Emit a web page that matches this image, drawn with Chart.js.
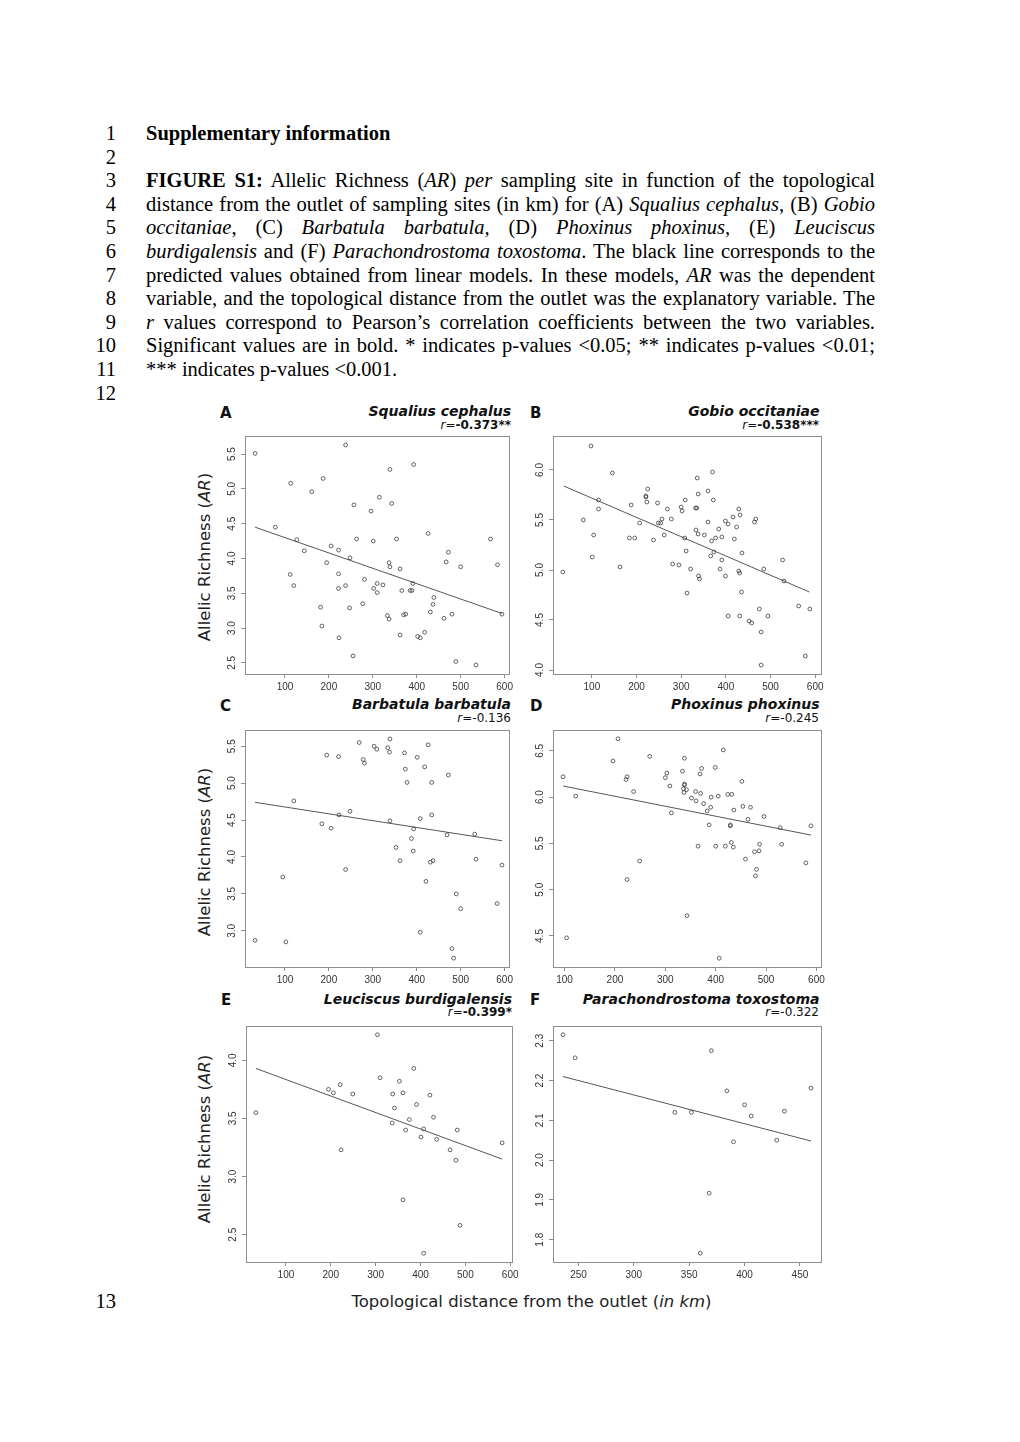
<!DOCTYPE html>
<html>
<head>
<meta charset="utf-8">
<script src="https://cdn.jsdelivr.net/npm/chart.js@4.4.1/dist/chart.umd.min.js"></script>
<style>
body { margin:0; background:#fff; width:1020px; height:1442px; position:relative; overflow:hidden; }
.doc { position:absolute; left:146px; top:122px; width:729px; font-family:"Liberation Serif", serif; font-size:20.5px; line-height:23.6px; color:#000; }
.doc div { height:23.6px; }
.doc .j { text-align:justify; text-align-last:justify; }
.nums { position:absolute; left:0; top:122px; width:116px; text-align:right; font-family:"Liberation Serif", serif; font-size:20.5px; line-height:23.6px; }
.nums div { height:23.6px; }
canvas { position:absolute; }
svg { position:absolute; left:0; top:0; }
</style>
</head>
<body>

<div class="nums">
  <div>1</div><div>2</div><div>3</div><div>4</div><div>5</div><div>6</div>
  <div>7</div><div>8</div><div>9</div><div>10</div><div>11</div><div>12</div>
</div>
<div class="nums" style="top:1290px"><div>13</div></div>

<div class="doc">
  <div><b>Supplementary information</b></div>
  <div></div>
  <div class="j"><b>FIGURE S1:</b> Allelic Richness (<i>AR</i>) <i>per</i> sampling site in function of the topological</div>
  <div class="j">distance from the outlet of sampling sites (in km) for (A) <i>Squalius cephalus</i>, (B) <i>Gobio</i></div>
  <div class="j"><i>occitaniae</i>, (C) <i>Barbatula barbatula,</i> (D) <i>Phoxinus phoxinus,</i> (E) <i>Leuciscus</i></div>
  <div class="j"><i>burdigalensis</i> and (F) <i>Parachondrostoma toxostoma</i>. The black line corresponds to the</div>
  <div class="j">predicted values obtained from linear models. In these models, <i>AR</i> was the dependent</div>
  <div class="j">variable, and the topological distance from the outlet was the explanatory variable. The</div>
  <div class="j"><i>r</i> values correspond to Pearson’s correlation coefficients between the two variables.</div>
  <div class="j">Significant values are in bold. * indicates p-values &lt;0.05; ** indicates p-values &lt;0.01;</div>
  <div>*** indicates p-values &lt;0.001.</div>
</div>

<svg width="1020" height="1442" font-family="DejaVu Sans" fill="#111">
  <g font-weight="bold" font-size="15">
    <text x="220" y="418">A</text>
    <text x="530" y="418">B</text>
    <text x="220" y="711">C</text>
    <text x="530" y="711">D</text>
    <text x="221" y="1005">E</text>
    <text x="530" y="1005">F</text>
  </g>
  <g font-weight="bold" font-style="italic" font-size="14" text-anchor="end">
    <text x="511" y="416">Squalius cephalus</text>
    <text x="819.5" y="416">Gobio occitaniae</text>
    <text x="511" y="709">Barbatula barbatula</text>
    <text x="819.5" y="709">Phoxinus phoxinus</text>
    <text x="512" y="1004">Leuciscus burdigalensis</text>
    <text x="819.5" y="1004">Parachondrostoma toxostoma</text>
  </g>
  <g font-size="12" text-anchor="end">
    <text x="511" y="429"><tspan font-style="italic">r</tspan>=<tspan font-weight="bold">-0.373**</tspan></text>
    <text x="819" y="429"><tspan font-style="italic">r</tspan>=<tspan font-weight="bold">-0.538***</tspan></text>
    <text x="511" y="722"><tspan font-style="italic">r</tspan>=-0.136</text>
    <text x="819" y="722"><tspan font-style="italic">r</tspan>=-0.245</text>
    <text x="512" y="1016"><tspan font-style="italic">r</tspan>=<tspan font-weight="bold">-0.399*</tspan></text>
    <text x="819" y="1016"><tspan font-style="italic">r</tspan>=-0.322</text>
  </g>
  <g font-size="16.5" text-anchor="middle" fill="#222">
    <text transform="translate(210,557) rotate(-90)">Allelic Richness (<tspan font-style="italic">AR</tspan>)</text>
    <text transform="translate(210,852) rotate(-90)">Allelic Richness (<tspan font-style="italic">AR</tspan>)</text>
    <text transform="translate(210,1139) rotate(-90)">Allelic Richness (<tspan font-style="italic">AR</tspan>)</text>
    <text x="531.5" y="1307">Topological distance from the outlet (<tspan font-style="italic">in km</tspan>)</text>
  </g>
</svg>

<script>
// tick values
const distTicks = [100, 200, 300, 400, 500, 600];
const distTicksF = [250, 300, 350, 400, 450];
const arTicksA = [2.5, 3.0, 3.5, 4.0, 4.5, 5.0, 5.5];
const arTicksB = [4.0, 4.5, 5.0, 5.5, 6.0];
const arTicksC = [3.0, 3.5, 4.0, 4.5, 5.0, 5.5];
const arTicksD = [4.5, 5.0, 5.5, 6.0, 6.5];
const arTicksE = [2.5, 3.0, 3.5, 4.0];
const arTicksF = [1.8, 1.9, 2.0, 2.1, 2.2, 2.3];

// A - Squalius cephalus
const distA = [32, 238, 113, 187, 161, 339, 393, 315, 257, 343, 296, 78, 127, 263, 301, 354, 426, 568,
  205, 222, 144, 248, 195, 337, 339, 472, 467, 500, 584, 112, 222, 120, 222, 238, 281, 310, 310, 302,
  323, 362, 391, 366, 385, 389, 439, 437, 277, 181, 247, 333, 337, 370, 375, 431, 480, 462, 594, 184,
  223, 362, 402, 408, 418, 255, 489, 535];
const arA = [5.51, 5.63, 5.08, 5.15, 4.96, 5.28, 5.35, 4.88, 4.77, 4.79, 4.68, 4.45, 4.27, 4.28, 4.25, 4.28, 4.36, 4.28,
  4.18, 4.12, 4.11, 4.01, 3.94, 3.94, 3.88, 4.09, 3.95, 3.88, 3.91, 3.77, 3.78, 3.61, 3.57, 3.61, 3.70, 3.64, 3.51, 3.57,
  3.62, 3.85, 3.64, 3.54, 3.54, 3.54, 3.44, 3.34, 3.35, 3.30, 3.29, 3.18, 3.13, 3.19, 3.20, 3.23, 3.20, 3.14, 3.20, 3.03,
  2.86, 2.90, 2.88, 2.86, 2.94, 2.60, 2.52, 2.47];
const fitDistA = [32, 594];
const fitArA = [4.45, 3.21];

// B - Gobio occitaniae
const distB = [98, 146, 81, 35, 104, 101, 115, 115, 163, 188, 184, 196, 207, 221, 221, 225, 223, 238, 247, 249,
  254, 257, 262, 269, 278, 281, 295, 300, 302, 309, 308, 311, 313, 321, 332, 335, 336, 338, 333, 338, 339, 341,
  352, 360, 360, 366, 370, 372, 368, 373, 377, 384, 387, 391, 391, 399, 399, 405, 405, 416, 419, 424, 429, 432,
  429, 431, 431, 435, 436, 464, 467, 452, 458, 475, 479, 479, 485, 494, 527, 530, 563, 578, 588];
const arB = [6.24, 5.97, 5.50, 4.98, 5.35, 5.13, 5.70, 5.61, 5.03, 5.65, 5.32, 5.32, 5.47, 5.74, 5.73, 5.81, 5.68, 5.30, 5.67, 5.47,
  5.47, 5.51, 5.35, 5.61, 5.51, 5.06, 5.05, 5.63, 5.59, 5.70, 5.32, 5.19, 4.77, 5.01, 5.62, 5.62, 5.92, 5.76, 5.40, 5.36, 4.94, 4.91,
  5.35, 5.79, 5.48, 5.14, 5.98, 5.70, 5.29, 5.18, 5.32, 5.41, 5.01, 5.10, 5.33, 5.49, 4.94, 4.54, 5.46, 5.53, 5.31, 5.43, 5.61, 5.55,
  4.99, 4.97, 4.54, 4.78, 5.17, 5.48, 5.51, 4.49, 4.47, 4.61, 4.38, 4.05, 5.01, 4.54, 5.10, 4.89, 4.64, 4.14, 4.61];
const fitDistB = [37, 587];
const fitArB = [5.84, 4.78];

// C - Barbatula barbatula
const distC = [32, 95, 102, 120, 184, 195, 205, 222, 223, 238, 248, 269, 278, 281, 303, 309, 334, 338, 339, 339,
  353, 362, 372, 374, 378, 388, 393, 392, 401, 408, 408, 418, 421, 426, 431, 434, 434, 437, 469, 472, 480, 484,
  490, 500, 532, 535, 583, 594];
const arC = [2.87, 3.73, 2.85, 4.76, 4.45, 5.38, 4.39, 5.36, 4.57, 3.83, 4.62, 5.55, 5.32, 5.27, 5.50, 5.46, 5.48, 5.42, 5.60, 4.49,
  4.13, 3.95, 5.41, 5.19, 5.01, 4.25, 4.38, 4.08, 5.35, 4.52, 2.98, 5.22, 3.67, 5.52, 3.93, 4.57, 5.01, 3.95, 4.30, 5.11, 2.76, 2.63,
  3.50, 3.30, 4.31, 3.97, 3.37, 3.89];
const fitDistC = [32, 594];
const fitArC = [4.74, 4.22];

// D - Phoxinus phoxinus
const distD = [97, 104, 122, 196, 206, 222, 224, 224, 237, 249, 269, 300, 303, 309, 312, 334, 338, 338, 338, 336,
  337, 342, 343, 352, 360, 361, 365, 369, 370, 372, 376, 383, 387, 390, 391, 399, 400, 405, 407, 415, 419, 424,
  429, 429, 431, 432, 435, 436, 452, 454, 459, 464, 469, 477, 479, 481, 486, 487, 496, 528, 531, 579, 589];
const arD = [6.22, 4.48, 6.01, 6.39, 6.63, 6.19, 6.22, 5.11, 6.06, 5.31, 6.44, 6.21, 6.26, 6.12, 5.83, 6.28, 6.42, 6.14, 6.13, 6.09,
  6.05, 6.08, 4.72, 5.99, 6.06, 5.96, 5.47, 6.25, 6.04, 6.31, 5.93, 5.85, 5.70, 5.89, 6.00, 6.32, 5.47, 6.01, 4.26, 6.51, 5.47, 6.03,
  5.70, 5.69, 5.51, 6.03, 5.46, 5.86, 6.17, 5.90, 5.33, 5.76, 5.89, 5.41, 5.15, 5.22, 5.42, 5.49, 5.79, 5.67, 5.49, 5.29, 5.69];
const fitDistD = [97, 589];
const fitArD = [6.12, 5.59];

// E - Leuciscus burdigalensis
const distE = [33, 195, 206, 221, 223, 249, 304, 310, 337, 338, 342, 353, 361, 361, 367, 375, 385, 391, 401, 407,
  407, 421, 429, 436, 466, 479, 482, 488, 582];
const arE = [3.55, 3.75, 3.72, 3.79, 3.23, 3.71, 4.22, 3.85, 3.46, 3.71, 3.59, 3.82, 3.72, 2.80, 3.40, 3.49, 3.93, 3.62, 3.34, 3.41,
  2.34, 3.70, 3.51, 3.32, 3.23, 3.14, 3.40, 2.58, 3.29];
const fitDistE = [33, 582];
const fitArE = [3.93, 3.15];

// F - Parachondrostoma toxostoma
const distF = [236, 247, 337, 352, 360, 368, 370, 384, 390, 400, 406, 429, 436, 460];
const arF = [2.315, 2.257, 2.12, 2.12, 1.766, 1.917, 2.275, 2.174, 2.046, 2.139, 2.111, 2.05, 2.123, 2.181];
const fitDistF = [236, 460];
const fitArF = [2.21, 2.048];

Chart.defaults.font.family = 'Liberation Sans';

const frame = {
  id: 'frame',
  beforeDatasetsDraw(chart) {
    const a = chart.chartArea, ctx = chart.ctx;
    ctx.save();
    ctx.strokeStyle = '#8e8e8e';
    ctx.lineWidth = 1;
    ctx.strokeRect(Math.round(a.left) + 0.5, Math.round(a.top) + 0.5,
      Math.round(a.right - a.left), Math.round(a.bottom - a.top));
    ctx.restore();
  }
};

function panel(box, xMin, xMax, yMin, yMax, xTicks, yTicks, xs, ys, fx, fy, yDec) {
  const cv = document.createElement('canvas');
  const w = box[1] - box[0] + 40, h = box[3] - box[2] + 30;
  cv.width = w; cv.height = h;
  cv.style.width = w + 'px'; cv.style.height = h + 'px';
  cv.style.left = (box[0] - 30) + 'px';
  cv.style.top = (box[2] - 6) + 'px';
  document.body.appendChild(cv);

  new Chart(cv, {
    type: 'scatter',
    data: {
      datasets: [{
        data: xs.map((x, i) => ({ x: x, y: ys[i] })),
        pointStyle: 'circle',
        pointRadius: 1.9,
        pointBorderWidth: 0.8,
        pointBorderColor: '#3c3c3c',
        pointBackgroundColor: 'rgba(0,0,0,0)',
        showLine: false
      }, {
        data: fx.map((x, i) => ({ x: x, y: fy[i] })),
        showLine: true,
        borderColor: '#555',
        borderWidth: 1,
        pointRadius: 0
      }]
    },
    options: {
      responsive: false,
      animation: false,
      events: [],
      layout: { padding: { left: 0, top: 6, right: 10, bottom: 0 } },
      plugins: { legend: { display: false }, tooltip: { enabled: false } },
      scales: {
        x: {
          type: 'linear', min: xMin, max: xMax,
          afterBuildTicks: s => { s.ticks = xTicks.map(v => ({ value: v })); },
          afterFit: s => { s.height = 24; },
          ticks: { font: { size: 10 }, color: '#333', padding: 3, maxRotation: 0, callback: v => String(v) },
          grid: { drawOnChartArea: false, tickLength: 4, color: '#8e8e8e' },
          border: { display: false }
        },
        y: {
          type: 'linear', min: yMin, max: yMax,
          afterBuildTicks: s => { s.ticks = yTicks.map(v => ({ value: v })); },
          afterFit: s => { s.width = 30; },
          ticks: { font: { size: 10 }, color: '#333', padding: 2, minRotation: 90, maxRotation: 90,
            crossAlign: 'center', callback: v => v.toFixed(yDec) },
          grid: { drawOnChartArea: false, tickLength: 4, color: '#8e8e8e' },
          border: { display: false }
        }
      }
    },
    plugins: [frame]
  });
}

panel([245, 509, 434, 674], 9, 610, 2.34, 5.76, distTicks, arTicksA, distA, arA, fitDistA, fitArA, 1);
panel([553, 821, 434, 674], 13, 613, 3.96, 6.34, distTicks, arTicksB, distB, arB, fitDistB, fitArB, 1);
panel([245, 509, 728, 967], 9, 610, 2.51, 5.72, distTicks, arTicksC, distC, arC, fitDistC, fitArC, 1);
panel([553, 821, 728, 967], 77, 609, 4.165, 6.725, distTicks, arTicksD, distD, arD, fitDistD, fitArD, 1);
panel([246, 512, 1024, 1262], 11, 604, 2.265, 4.295, distTicks, arTicksE, distE, arE, fitDistE, fitArE, 1);
panel([553, 821, 1024, 1262], 227, 469, 1.744, 2.337, distTicksF, arTicksF, distF, arF, fitDistF, fitArF, 1);
</script>
</body>
</html>
